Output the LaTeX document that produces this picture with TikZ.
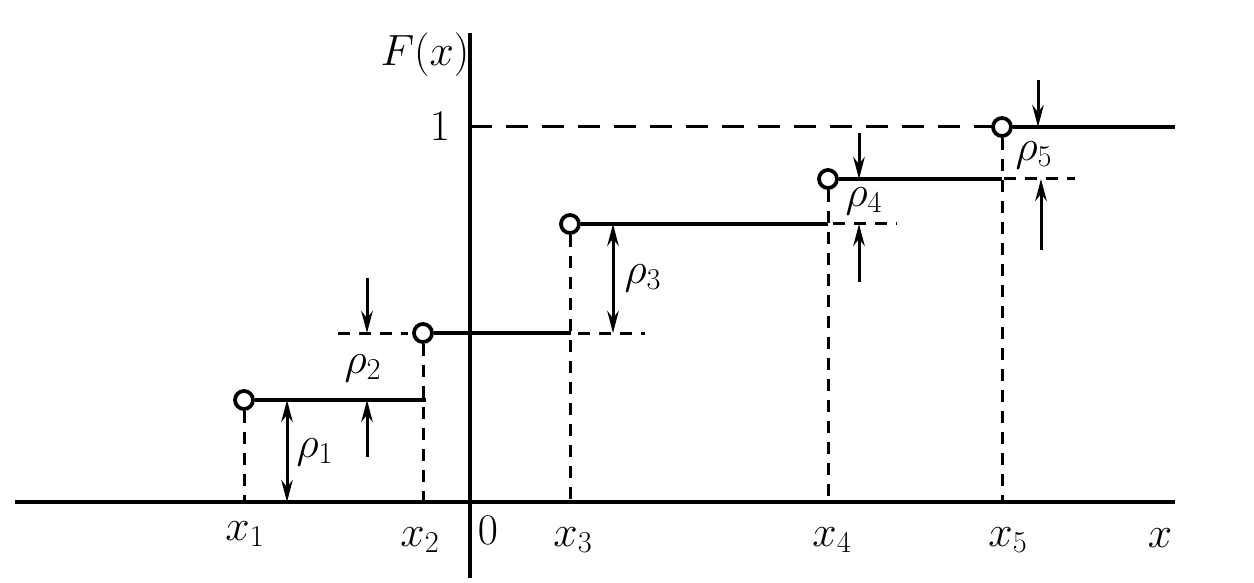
\documentclass[tikz,border=0pt]{standalone}
\usepackage{amsmath}
\usetikzlibrary{arrows.meta}

\begin{document}
\begin{tikzpicture}[x=0.2mm,y=0.2mm,>={Stealth[length=4.4mm,width=2.3mm]}]
    \tikzset{
        stepline/.style={line width=0.85mm},
        dashline/.style={line width=0.6mm, dash pattern=on 2.4mm off 1.8mm},
        longdash/.style={line width=0.6mm, dash pattern=on 4.4mm off 2.8mm},
        jumpdot/.style={draw, circle, line width=0.75mm, inner sep=0pt, minimum size=3.6mm, fill=white},
        lbl/.style={font=\fontsize{27}{31}\selectfont}
    }
    \useasboundingbox (0,0) rectangle (1254,582);

    % Axes
    \coordinate (xl) at (15,80);
    \coordinate (xr) at (1175,80);
    \coordinate (yb) at (470,4);
    \coordinate (yt) at (470,549);
    \draw[line width=0.9mm] (xl) -- (xr);
    \draw[line width=0.9mm] (yb) -- (yt);

    % Level 1
    \coordinate (one) at (470,455);
    \draw[longdash] (one) -- (996,455);

    % Steps
    \foreach \i/\a/\b/\l in {1/244/426/182, 2/423/571/249, 3/570/828/358, 4/828/1002/403, 5/1002/1175/455}  {
        \node[jumpdot] (c\i) at (\a,\l) {};
        \draw[stepline] (c\i) -- (\b,\l);
        \draw[dashline] (c\i.south) -- (\a,80);
        };

    % Small dashed extensions
    \draw[dashline] (338,249) -- (408,249);
    \draw[dashline] (578,249) -- (645,249);
    \draw[dashline] (833,358) -- (897,358);
    \draw[dashline] (1004,403) -- (1075,403);

    % Jump arrows
    \draw[<->, line width=0.6mm] (287,182) -- (287,80);
    \draw[->, line width=0.6mm] (367,304) -- (367,249);
    \draw[->, line width=0.6mm] (367,125) -- (367,182);
    \draw[<->, line width=0.6mm] (613,358) -- (613,249);
    \draw[->, line width=0.6mm] (859,449) -- (859,403);
    \draw[->, line width=0.6mm] (859,300) -- (859,358);
    \draw[->, line width=0.6mm] (1038,502) -- (1038,455);
    \draw[->, line width=0.6mm] (1041,332) -- (1041,403);

    % Labels
    \node[lbl] (lF) at (425,527) {$F(x)$};
    \node[lbl] (l1) at (440,456) {$1$};
    \node[lbl] (l0) at (488,52) {$0$};
    \node[lbl] (lx) at (1160,44) {$x$};
    \foreach \i/\a/\y in {1/245/48, 2/420/42, 3/573/42, 4/832/42, 5/1008/42}  {
        \node[lbl] (lx\i) at (\a,\y) {$x_\i$};
        };
    \node[lbl] (r1) at (315,130) {$\rho_1$};
    \node[lbl] (r2) at (363,214) {$\rho_2$};
    \node[lbl] (r3) at (643,304) {$\rho_3$};
    \node[lbl] (r4) at (864,381) {$\rho_4$};
    \node[lbl] (r5) at (1034,427) {$\rho_5$};
\end{tikzpicture}
\end{document}
